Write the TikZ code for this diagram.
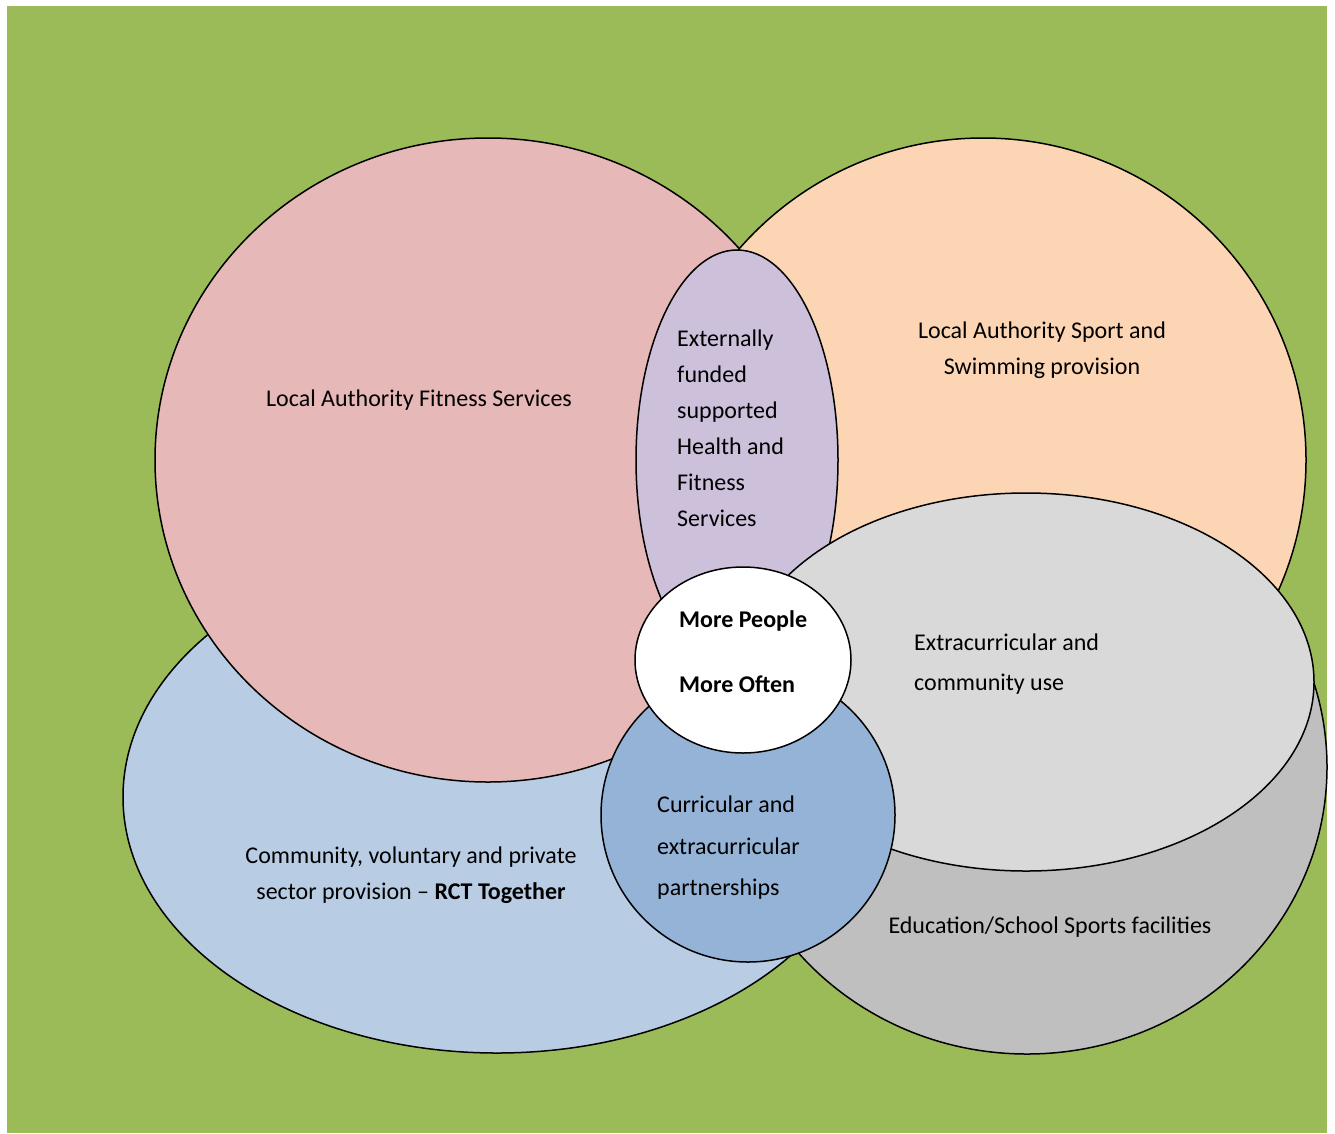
\documentclass[tikz,border=0pt]{standalone}
\usepackage{fontspec}
\setmainfont{Carlito}
\definecolor{bggreen}{HTML}{9BBB59}
\definecolor{fitpink}{HTML}{E6B8B7}
\definecolor{sportpeach}{HTML}{FCD5B4}
\definecolor{extpurple}{HTML}{CCC0DA}
\definecolor{usegrey}{HTML}{D9D9D9}
\definecolor{schoolgrey}{HTML}{BFBFBF}
\definecolor{commblue}{HTML}{B8CCE4}
\definecolor{currblue}{HTML}{95B3D7}
\begin{document}
\begin{tikzpicture}[x=1pt,y=-1pt]
    \tikzstyle{area}=[draw=black,line width=1.5pt]
    \tikzstyle{lbl}=[inner sep=0pt,font=\fontsize{24pt}{36pt}\selectfont]
    \useasboundingbox (0,0) rectangle (1335,1133);
    \fill[bggreen] (7,6) rectangle (1327,1133);

    % overlapping areas, back to front
    \filldraw[area,fill=commblue] (497,797) ellipse [x radius=374pt,y radius=256pt];
    \filldraw[area,fill=schoolgrey] (1027,767) ellipse [x radius=300pt,y radius=287pt];
    \filldraw[area,fill=fitpink] (488,460) ellipse [x radius=333pt,y radius=322pt];
    \filldraw[area,fill=sportpeach] (983,460) ellipse [x radius=323pt,y radius=322pt];
    \filldraw[area,fill=extpurple] (737,460) ellipse [x radius=101pt,y radius=210pt];
    \filldraw[area,fill=usegrey] (1026,682) ellipse [x radius=288pt,y radius=189pt];
    \filldraw[area,fill=currblue] (748,815) ellipse [x radius=147pt,y radius=147pt];
    \filldraw[area,fill=white] (743,660) ellipse [x radius=108pt,y radius=93pt];

    \node[lbl] (fitness) at (419,400) {Local Authority Fitness Services};
    \node[lbl,align=center] (sport) at (1042,350) {Local Authority Sport and\\Swimming provision};
    \node[lbl,align=left,anchor=west] (external) at (677,428) {Externally\\funded\\supported\\Health and\\Fitness\\Services};
    \node[lbl,align=left,anchor=west,font=\fontsize{24pt}{65pt}\selectfont\bfseries] (core) at (679,652) {More People\\More Often};
    \node[lbl,align=left,anchor=west,font=\fontsize{24pt}{40pt}\selectfont] (extracurr) at (914,664) {Extracurricular and\\community use};
    \node[lbl,align=left,anchor=west,font=\fontsize{24pt}{41.5pt}\selectfont] (curr) at (657,848) {Curricular and\\extracurricular\\partnerships};
    \node[lbl,align=center] (community) at (411,875) {Community, voluntary and private\\sector provision -- \textbf{RCT Together}};
    \node[lbl] (school) at (1050,927) {Education/School Sports facilities};
\end{tikzpicture}
\end{document}
